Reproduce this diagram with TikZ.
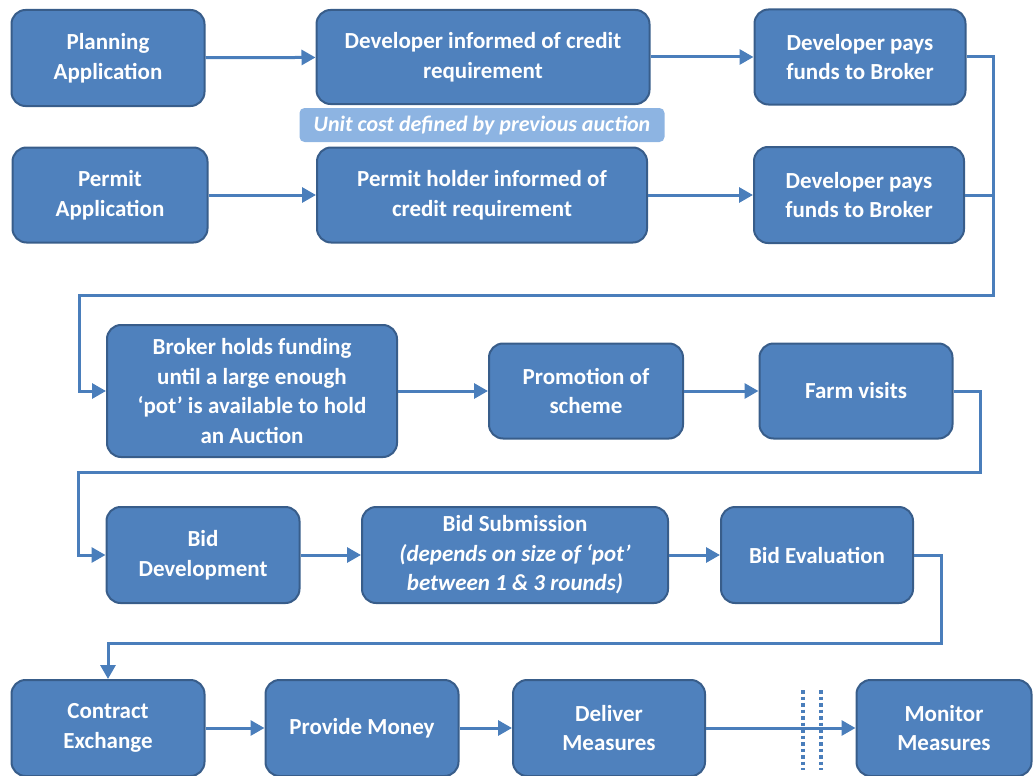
\documentclass[tikz,border=0pt]{standalone}
\usepackage{fontspec}
\setmainfont{Carlito}
\usepackage{xcolor}
\usepackage{tikz}
\usetikzlibrary{arrows.meta,positioning,calc}

\definecolor{boxblue}{RGB}{79,129,189}
\definecolor{boxedge}{RGB}{56,93,138}
\definecolor{noteblue}{RGB}{141,180,226}
\definecolor{lineblue}{RGB}{74,126,187}

\begin{document}
\begin{tikzpicture}[x=1pt,y=-1pt,
  stage/.style={draw=boxedge,line width=2pt,fill=boxblue,rounded corners=14pt,
    text=white,font=\fontsize{23}{29.5}\selectfont\bfseries,align=center,inner sep=0pt},
  note/.style={fill=noteblue,rounded corners=5pt,text=white,
    font=\fontsize{22}{25}\selectfont\bfseries\itshape,inner sep=0pt},
  link/.style={draw=lineblue,line width=3pt,-{Triangle[length=14pt,width=15pt]}},
  joint/.style={draw=lineblue,line width=3pt}]
  \useasboundingbox (0,0) rectangle (1034,776);

  % row 1 and 2
  \node[stage,minimum width=193pt,minimum height=96pt] (plan) at (108,58) {Planning\\Application};
  \node[stage,minimum width=333pt,minimum height=94pt] (devinf) at (483,57) {Developer informed of credit\\requirement};
  \node[stage,minimum width=211pt,minimum height=95pt] (pays1) at (860,57) {Developer pays\\funds to Broker};
  \node[note,minimum width=365pt,minimum height=34pt] (unitcost) at (482,125) {Unit cost defined by previous auction};
  \node[stage,minimum width=195pt,minimum height=95pt] (permit) at (110,195) {Permit\\Application};
  \node[stage,minimum width=330pt,minimum height=95pt] (holderinf) at (482,195) {Permit holder informed of\\credit requirement};
  \node[stage,minimum width=210pt,minimum height=96pt] (pays2) at (859,195) {Developer pays\\funds to Broker};

  % row 3
  \node[stage,minimum width=290pt,minimum height=132pt] (broker) at (252,391) {Broker holds funding\\until a large enough\\`pot' is available to hold\\an Auction};
  \node[stage,minimum width=194pt,minimum height=95pt] (promo) at (586,391) {Promotion of\\scheme};
  \node[stage,minimum width=193pt,minimum height=95pt] (farm) at (856,391) {Farm visits};

  % row 4
  \node[stage,minimum width=193pt,minimum height=96pt] (biddev) at (203,555) {Bid\\Development};
  \node[stage,minimum width=306pt,minimum height=96pt] (bidsub) at (515,555) {Bid Submission\\\itshape (depends on size of `pot'\\\itshape between 1 \& 3 rounds)};
  \node[stage,minimum width=192pt,minimum height=96pt] (bideval) at (817,555) {Bid Evaluation};

  % row 5
  \node[stage,minimum width=193pt,minimum height=96pt] (contract) at (108,728) {Contract\\Exchange};
  \node[stage,minimum width=193pt,minimum height=96pt] (money) at (362,728) {Provide Money};
  \node[stage,minimum width=192pt,minimum height=96pt] (deliver) at (609,728) {Deliver\\Measures};
  \node[stage,minimum width=175pt,minimum height=96pt] (monitor) at (944,728) {Monitor\\Measures};

  \coordinate (bendA) at (993,295);
  \coordinate (bendB) at (980,472);
  \coordinate (bendC) at (941,643);

  \draw[link] (plan) -- (devinf);
  \draw[link] (devinf) -- (pays1);
  \draw[link] (permit) -- (holderinf);
  \draw[link] (holderinf) -- (pays2);
  \draw[link] (pays1.east) -| (bendA) -| ([xshift=-27pt]broker.west) -- (broker.west);
  \draw[joint] (pays2.east) -- (pays2.east -| bendA);

  \draw[link] (broker.east |- promo) -- (promo);
  \draw[link] (promo) -- (farm);
  \draw[link] (farm.east) -| (bendB) -| ([xshift=-27pt]biddev.west) -- (biddev.west);

  \draw[link] (biddev) -- (bidsub);
  \draw[link] (bidsub) -- (bideval);
  \draw[link] (bideval.east) -| (bendC) -| (contract.north);

  \draw[link] (contract) -- (money);
  \draw[link] (money) -- (deliver);
  \draw[link] (deliver) -- (monitor);
  \draw[lineblue,line width=3.5pt,dash pattern=on 3.5pt off 3pt] (803,690) -- (803,770);
  \draw[lineblue,line width=3.5pt,dash pattern=on 3.5pt off 3pt] (821,690) -- (821,770);
\end{tikzpicture}
\end{document}
